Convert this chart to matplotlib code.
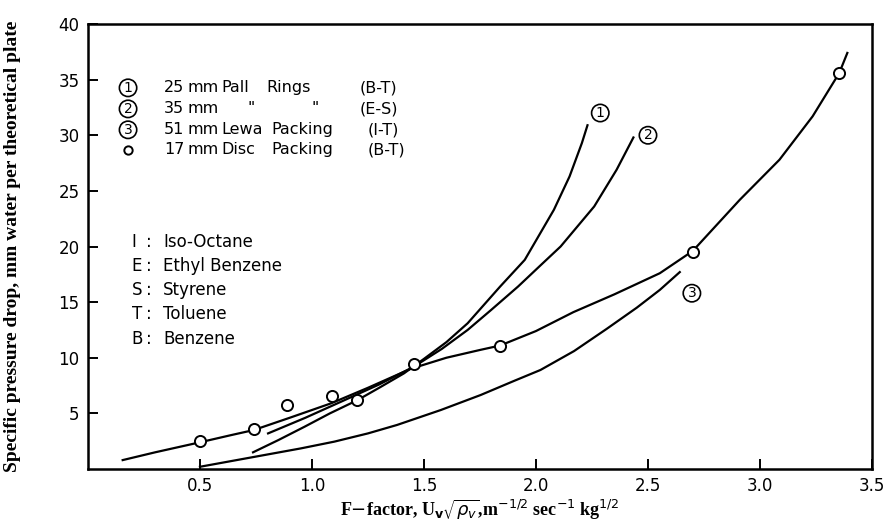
import matplotlib.pyplot as plt
import numpy as np

# curve points
disc_x = [0.155, 0.30, 0.50, 0.64, 0.74, 0.90, 1.085, 1.25, 1.44, 1.60, 1.75, 1.84,
          2.00, 2.167, 2.35, 2.553, 2.70, 2.91, 3.087, 3.235, 3.354, 3.39]
disc_y = [0.8, 1.5, 2.4, 3.05, 3.5, 4.6, 5.9, 7.3, 9.0, 10.0, 10.7, 11.1,
          12.4, 14.1, 15.7, 17.6, 19.6, 24.2, 27.8, 31.7, 35.6, 37.4]

# measured points, 17 mm disc packing
pts_x = [0.50, 0.74, 0.89, 1.09, 1.20, 1.455, 1.84, 2.70, 3.355]
pts_y = [2.5, 3.6, 5.75, 6.6, 6.2, 9.4, 11.05, 19.5, 35.6]

pall25_x = [0.737, 0.85, 0.967, 1.08, 1.204, 1.30, 1.411, 1.50, 1.60, 1.695, 1.84,
            1.95, 2.08, 2.15, 2.205, 2.23]
pall25_y = [1.5, 2.6, 3.8, 5.0, 6.2, 7.3, 8.6, 9.9, 11.4, 13.1, 16.4,
            18.8, 23.3, 26.3, 29.3, 30.9]

pall35_x = [0.804, 0.97, 1.13, 1.30, 1.455, 1.58, 1.695, 1.80, 1.92, 2.02, 2.11,
            2.26, 2.36, 2.435]
pall35_y = [3.2, 4.6, 6.05, 7.6, 9.2, 10.8, 12.5, 14.3, 16.4, 18.3, 20.0,
            23.6, 26.9, 29.8]

lewa_x = [0.50, 0.65, 0.80, 0.95, 1.10, 1.25, 1.38, 1.575, 1.753, 1.90, 2.02,
          2.17, 2.316, 2.45, 2.553, 2.642]
lewa_y = [0.2, 0.75, 1.3, 1.85, 2.46, 3.2, 3.96, 5.3, 6.65, 7.9, 8.9,
          10.6, 12.6, 14.5, 16.1, 17.7]

xticks = [0.5, 1.0, 1.5, 2.0, 2.5, 3.0, 3.5]
yticks = [5, 10, 15, 20, 25, 30, 35, 40]

# key text, one word per entry with its x in data units
key_rows = [
    [("25", 0.339), ("mm", 0.443), ("Pall", 0.594), ("Rings", 0.795), ("(B-T)", 1.214)],
    [("35", 0.339), ("mm", 0.443), ('"', 0.714), ('"', 0.996), ("(E-S)", 1.214)],
    [("51", 0.339), ("mm", 0.443), ("Lewa", 0.594), ("Packing", 0.82), ("(I-T)", 1.25)],
    [("17", 0.339), ("mm", 0.443), ("Disc", 0.594), ("Packing", 0.82), ("(B-T)", 1.25)],
]
key_y = [34.26, 32.37, 30.49, 28.69]

solvent_keys = ["I", "E", "S", "T", "B"]
solvent_names = ["Iso-Octane", "Ethyl Benzene", "Styrene", "Toluene", "Benzene"]
solvent_y = [20.41, 18.26, 16.1, 13.95, 11.7]

fig = plt.figure(figsize=(8.84, 5.30), dpi=100)
ax = fig.add_axes([0.0995, 0.1151, 0.8869, 0.8396])

lw = 1.6
ax.plot(disc_x, disc_y, color='black', lw=lw)
ax.plot(pall25_x, pall25_y, color='black', lw=lw)
ax.plot(pall35_x, pall35_y, color='black', lw=lw)
ax.plot(lewa_x, lewa_y, color='black', lw=lw)
ax.plot(pts_x, pts_y, 'o', ms=8, mfc='white', mec='black', mew=1.4, zorder=3)

ax.set_xlim(0, 3.5)
ax.set_ylim(0, 40)
ax.set_xticks(xticks)
ax.set_xticklabels([f"{v:.1f}" for v in xticks])
ax.set_yticks(yticks)
ax.set_yticklabels([str(v) for v in yticks])
ax.tick_params(direction='in', length=7, width=1.4, labelsize=12, pad=6)
for s in ax.spines.values():
    s.set_linewidth(1.8)

circ = dict(boxstyle='circle,pad=0.12', fc='white', ec='black', lw=1.2)

# curve labels
ax.text(2.287, 32.0, "1", ha='center', va='center', fontsize=10, bbox=circ)
ax.text(2.50, 30.0, "2", ha='center', va='center', fontsize=10, bbox=circ)
ax.text(2.696, 15.8, "3", ha='center', va='center', fontsize=10, bbox=circ)

# key
for i in range(3):
    ax.text(0.179, key_y[i], str(i + 1), ha='center', va='center', fontsize=10, bbox=circ)
ax.plot(0.179, key_y[3], 'o', ms=6, mfc='white', mec='black', mew=1.4)
for row, yy in zip(key_rows, key_y):
    for txt, xx in row:
        ax.text(xx, yy, txt, va='center', fontsize=11.5)

for k, name, yy in zip(solvent_keys, solvent_names, solvent_y):
    ax.text(0.196, yy, k, va='center', fontsize=12)
    ax.text(0.259, yy, ":", va='center', fontsize=12)
    ax.text(0.335, yy, name, va='center', fontsize=12)

ax.set_xlabel(r"F$-$factor, U$_\mathbf{v}\sqrt{\rho_v}$,m$^{-1/2}$ sec$^{-1}$ kg$^{1/2}$",
              fontsize=13, fontweight='bold', family='Liberation Serif', labelpad=2)
ax.set_ylabel("Specific pressure drop, mm water per theoretical plate",
              fontsize=14, fontweight='bold', family='Liberation Serif')
ax.yaxis.set_label_coords(-0.085, 0.5)

fig.savefig("out.png", dpi=100)
